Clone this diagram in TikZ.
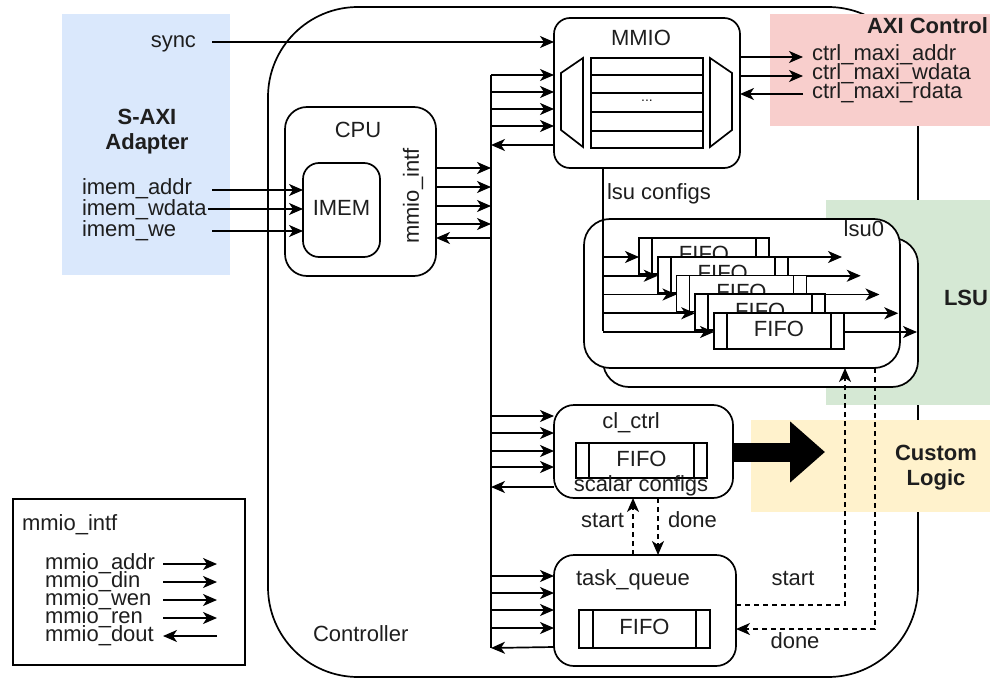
\documentclass[tikz,border=0pt]{standalone}
\usepackage{fontspec}
\setmainfont{Liberation Sans}
\usetikzlibrary{arrows.meta,fit,calc}
\definecolor{blueb}{HTML}{DAE8FC}
\definecolor{redb}{HTML}{F8CECC}
\definecolor{greenb}{HTML}{D5E8D4}
\definecolor{yellowb}{HTML}{FFF2CC}
\definecolor{txt}{HTML}{1E1E1E}
\begin{document}
\begin{tikzpicture}[x=1pt,y=-1pt,line width=1.7pt,
  font=\fontsize{22}{25}\selectfont,
  every node/.style={inner sep=0pt,outer sep=0pt},
  lab/.style={text=txt,text height=16pt,text depth=4.5pt},
  tight/.style={text=txt,text height=13pt,text depth=4pt,anchor=base west},
  bold/.style={font=\fontsize{22}{25}\selectfont\bfseries,text=txt,align=center},
  arr/.style={-{Stealth[length=14pt,width=12pt,inset=4pt]}},
  dsh/.style={dash pattern=on 5pt off 4pt},
  rbox/.style={draw,fill=white,rounded corners=#1},
  sq/.style={draw,fill=white}]
\useasboundingbox (0,0) rectangle (990,679);

% Controller outline
\node[draw,rounded corners=90pt,fit={(268,7)(918,677)}] (ctrl) {};
\node[lab,anchor=west] (ctrlt) at (313,636) {Controller};

% background regions
\node[fill=blueb,fit={(62,14)(230,275)}] (saxi) {};
\node[fill=redb,fit={(770,14)(990,126)}] (axi) {};
\node[fill=greenb,fit={(826,200)(990,405)}] (lsubg) {};
\node[fill=yellowb,fit={(751,420)(990,512)}] (cust) {};
\node[bold] (saxit) at (147,132) {S-AXI\\Adapter};
\node[bold,anchor=east] (axit) at (988,26) {AXI Control};
\node[bold] (lsut) at (966,298) {LSU};
\node[bold] (custt) at (936,468) {Custom\\Logic};

% bus
\coordinate (busT) at (491,75);
\coordinate (busB) at (491,648);
\draw (busT) -- (busB);

% MMIO
\node[rbox=16pt,fit={(554,18)(740,168)}] (mmio) {};
\node[lab] (mmiot) at (641,40) {MMIO};
\draw (583,58) -- (583,147) -- (561,130) -- (561,73) -- cycle;
\draw (710,58) -- (732,73) -- (732,130) -- (710,147) -- cycle;
\node[sq,fit={(591,58)(703,148)}] (regs) {};
\foreach \y in {75,93,112,131} \draw (591,\y) -- (703,\y);
\node[text=txt,font=\fontsize{14}{16}\selectfont] (dots) at (647,101) {...};

% sync
\node[lab,anchor=east] (synct) at (196,42) {sync};
\coordinate (syncS) at (212,42);
\draw[arr] (syncS) -- (syncS -| mmio.west);

% MMIO <-> bus
\foreach \y in {75,92,109,126} \draw[arr] (busT |- 0,\y) -- (mmio.west |- 0,\y);
\draw[arr] (mmio.west |- 0,145) -- (busT |- 0,145);

% AXI control signals
\coordinate (axiE) at (803,0);
\draw[arr] (mmio.east |- 0,57) -- (axiE |- 0,57);
\draw[arr] (mmio.east |- 0,76) -- (axiE |- 0,76);
\draw[arr] (axiE |- 0,94) -- (mmio.east |- 0,94);
\node[tight] (ma) at (812,61) {ctrl\_maxi\_addr};
\node[tight] (mw) at (812,80) {ctrl\_maxi\_wdata};
\node[tight] (mr) at (812,99) {ctrl\_maxi\_rdata};

% CPU
\node[rbox=22pt,fit={(285,107)(436,276)}] (cpu) {};
\node[lab] (cput) at (358,132) {CPU};
\node[rbox=16pt,fit={(303,163)(380,257)}] (imem) {};
\node[lab] (imemt) at (imem.center) {IMEM};
\node[lab,rotate=90] (intft) at (413,196) {mmio\_intf};
\foreach \y in {168,187,206,224} \draw[arr] (cpu.east |- 0,\y) -- (busT |- 0,\y);
\draw[arr] (busT |- 0,238) -- (cpu.east |- 0,238);

% IMEM inputs
\node[tight] (ia) at (82,195) {imem\_addr};
\node[tight] (iw) at (82,215) {imem\_wdata};
\node[tight] (ie) at (82,236) {imem\_we};
\coordinate (iaS) at (212,190);
\coordinate (iwS) at (208,209);
\coordinate (ieS) at (212,231);
\draw[arr] (iaS) -- (iaS -| imem.west);
\draw[arr] (iwS) -- (iwS -| imem.west);
\draw[arr] (ieS) -- (ieS -| imem.west);

% LSU
\node[rbox=26pt,fit={(603,238)(918,387)}] (lsu1) {};
\node[rbox=26pt,fit={(584,219)(900,368)}] (lsu0) {};
\node[lab,anchor=east] (lsu0t) at (884,231) {lsu0};
\draw (mmio.south -| 603,0) -- (603,331);
\node[lab,anchor=west] (lsuct) at (607,194) {lsu configs};
\foreach \i in {0,...,4} {
  \pgfmathsetmacro\xa{639+18.75*\i}
  \pgfmathsetmacro\ya{238+18.75*\i}
  \pgfmathsetmacro\yc{\ya+19}
  \node[sq,fit={(\xa,\ya)(\xa+130,\ya+36)}] (lf\i) {};
  \draw ([xshift=13pt]lf\i.north west) -- ([xshift=13pt]lf\i.south west);
  \draw ([xshift=-13pt]lf\i.north east) -- ([xshift=-13pt]lf\i.south east);
  \node[lab] at (lf\i.center) {FIFO};
  \draw[arr] (603,\yc) -- (lf\i.west |- 0,\yc);
  \draw[arr] (lf\i.east |- 0,\yc) -- ++(73,0);
}

% cl_ctrl
\node[rbox=20pt,fit={(554,405)(733,498)}] (cl) {};
\node[lab] (clt) at (631,423) {cl\_ctrl};
\node[sq,fit={(576,443)(707,478)}] (clf) {};
\draw ([xshift=13pt]clf.north west) -- ([xshift=13pt]clf.south west);
\draw ([xshift=-13pt]clf.north east) -- ([xshift=-13pt]clf.south east);
\node[lab] at (clf.center) {FIFO};
\node[lab] (sct) at (641,486) {scalar configs};
\foreach \y in {416,433,451,467} \draw[arr] (busT |- 0,\y) -- (cl.west |- 0,\y);
\draw[arr] (cl.west |- 0,487) -- (busT |- 0,487);

% thick arrow to custom logic
\coordinate (thk) at (825,452);
\draw[line width=19pt,-{Triangle[length=35pt,width=59pt]}] (cl.east |- thk) -- (thk);

% task_queue
\node[rbox=20pt,fit={(554,555)(736,666)}] (tq) {};
\node[lab] (tqt) at (633,580) {task\_queue};
\node[sq,fit={(579,610)(710,648)}] (tqf) {};
\draw ([xshift=14pt]tqf.north west) -- ([xshift=14pt]tqf.south west);
\draw ([xshift=-14pt]tqf.north east) -- ([xshift=-14pt]tqf.south east);
\node[lab] at (tqf.center) {FIFO};
\foreach \y in {576,593,610,628} \draw[arr] (busT |- 0,\y) -- (tq.west |- 0,\y);
\draw[arr] (tq.west |- 0,647) -- (busB);

% start / done between cl_ctrl and task_queue
\draw[dsh,arr] (tq.north -| 633,0) -- (cl.south -| 633,0);
\draw[dsh,arr] (cl.south -| 658,0) -- (tq.north -| 658,0);
\node[lab,anchor=east] (st1) at (624,522) {start};
\node[lab,anchor=west] (dn1) at (668,522) {done};

% start / done to LSU
\draw[dsh,arr] (tq.east |- 0,605) -| (lsu0.south -| 845,0);
\draw[dsh,arr] (lsu0.south -| 875,0) |- (tq.east |- 0,629);
\node[lab] (st2) at (793,580) {start};
\node[lab] (dn2) at (795,643) {done};

% legend
\node[draw,fit={(13,499)(245,665)}] (leg) {};
\node[lab,anchor=west] (legt) at (22,525) {mmio\_intf};
\node[tight] (l1) at (45,569) {mmio\_addr};
\node[tight] (l2) at (45,587) {mmio\_din};
\node[tight] (l3) at (45,605) {mmio\_wen};
\node[tight] (l4) at (45,623) {mmio\_ren};
\node[tight] (l5) at (45,641) {mmio\_dout};
\coordinate (lgA) at (163,0);
\coordinate (lgB) at (217,0);
\draw[arr] (lgA |- 0,564) -- (lgB |- 0,564);
\draw[arr] (lgA |- 0,582) -- (lgB |- 0,582);
\draw[arr] (lgA |- 0,600) -- (lgB |- 0,600);
\draw[arr] (lgA |- 0,618) -- (lgB |- 0,618);
\draw[arr] (lgB |- 0,636) -- (lgA |- 0,636);
\end{tikzpicture}
\end{document}
